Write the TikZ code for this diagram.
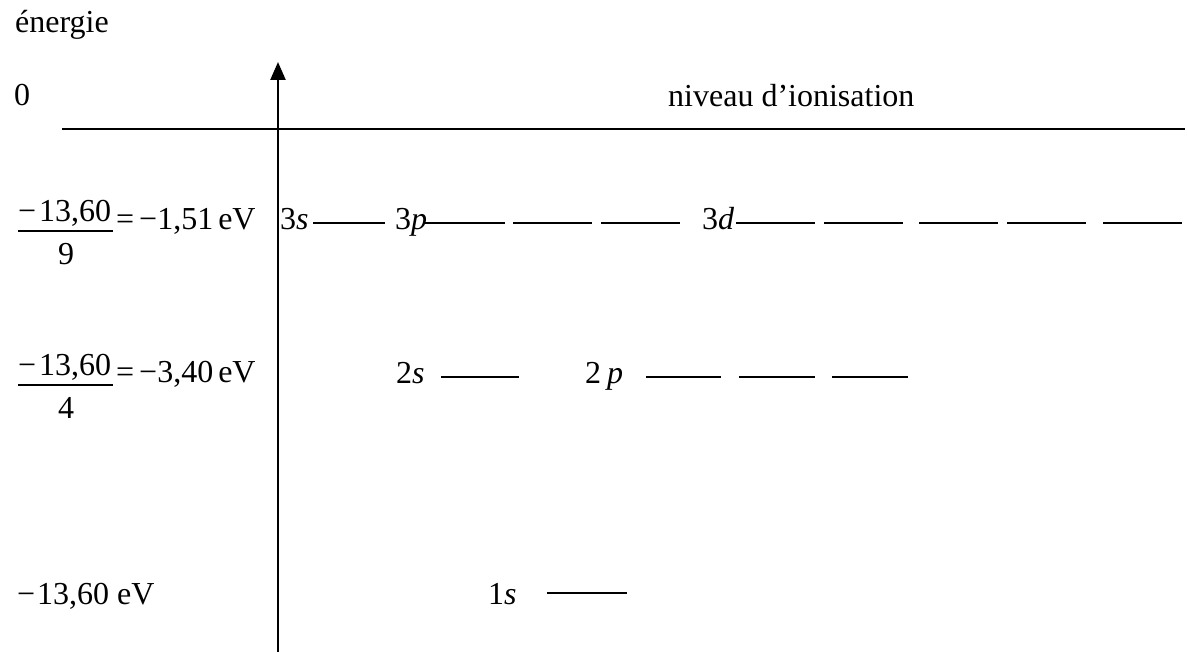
\documentclass[tikz,border=0pt]{standalone}
\usepackage{fontspec}
\setmainfont{Liberation Serif}
\usetikzlibrary{arrows.meta}
\begin{document}
\begin{tikzpicture}[x=1pt,y=-1pt,
  lbl/.style={inner sep=0pt,anchor=base west,font=\fontsize{32}{38}\selectfont},
  lvl/.style={line width=2pt},
  fracbar/.style={line width=1.5pt},
  ax/.style={line width=2.4pt}]
\useasboundingbox (0,0) rectangle (1187,652);
% axes
\coordinate (hl) at (62,129);
\coordinate (hr) at (1185,129);
\coordinate (vb) at (278,652);
\coordinate (vt) at (278,62);
\draw[ax] (hl) -- (hr);
\draw[ax,-{Triangle[width=15pt,length=18pt]}] (vb) -- (vt);
% top labels
\node[lbl] (en) at (15,33) {énergie};
\node[lbl] (zero) at (14,106) {0};
\node[lbl] (ion) at (668,107) {niveau d’ionisation};
% row n=3
\node[lbl] (n3) at (18,222) {−\kern3pt13,60};
\draw[fracbar] (18,231) -- (113,231);
\node[lbl] (d3) at (58,265) {9};
\node[lbl] (e3) at (116,230) {=\kern5pt−1,51\kern5pt eV};
\node[lbl] (l3s) at (280,230) {3\textit{s}};
\draw[lvl] (313,223) -- (385,223);
\node[lbl] (l3p) at (395,230) {3\textit{p}};
\draw[lvl] (425,223) -- (505,223);
\draw[lvl] (513,223) -- (592,223);
\draw[lvl] (601,223) -- (680,223);
\node[lbl] (l3d) at (702,230) {3\textit{d}};
\draw[lvl] (736,223) -- (815,223);
\draw[lvl] (824,223) -- (903,223);
\draw[lvl] (919,223) -- (998,223);
\draw[lvl] (1007,223) -- (1086,223);
\draw[lvl] (1103,223) -- (1182,223);
% row n=2
\node[lbl] (n2) at (18,376) {−\kern3pt13,60};
\draw[fracbar] (18,385) -- (113,385);
\node[lbl] (d2) at (58,419) {4};
\node[lbl] (e2) at (116,383) {=\kern5pt−3,40\kern5pt eV};
\node[lbl] (l2s) at (396,384) {2\textit{s}};
\draw[lvl] (441,377) -- (519,377);
\node[lbl] (l2p) at (585,384) {2\kern6pt\textit{p}};
\draw[lvl] (646,377) -- (721,377);
\draw[lvl] (739,377) -- (815,377);
\draw[lvl] (832,377) -- (908,377);
% row n=1
\node[lbl] (e1) at (17,604) {−\kern2pt13,60 eV};
\node[lbl] (l1s) at (488,604) {1\textit{s}};
\draw[lvl] (547,593) -- (627,593);
\end{tikzpicture}
\end{document}
